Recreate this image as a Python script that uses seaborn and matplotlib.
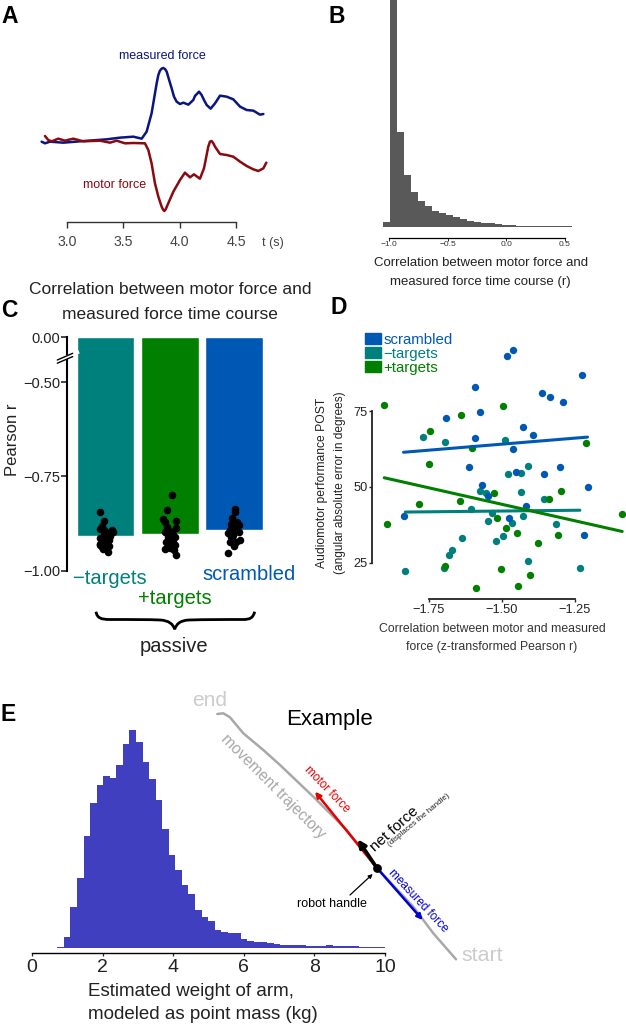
import numpy as np
import pandas as pd
import matplotlib
matplotlib.use("Agg")
import matplotlib.pyplot as plt
import seaborn as sns
from matplotlib.patches import Patch, PathPatch
from matplotlib.path import Path

# --------------------------------------------------
# Data
# --------------------------------------------------

# A: force time courses
measured_t = [2.775, 2.805, 2.849, 2.967, 3.115, 3.352, 3.470, 3.589, 3.663, 3.707, 3.751, 3.796,
              3.811, 3.825, 3.840, 3.855, 3.870, 3.885, 3.905, 3.929, 3.950, 3.973, 4.003, 4.033,
              4.077, 4.121, 4.136, 4.172, 4.195, 4.216, 4.240, 4.275, 4.314, 4.358, 4.417, 4.476,
              4.536, 4.595, 4.654, 4.713, 4.743]
measured_f = [0, -.05, 0, -.03, .01, .07, .12, .15, .09, .30, .85, 1.75,
              2.0, 2.13, 2.19, 2.21, 2.18, 2.10, 1.87, 1.60, 1.35, 1.20, 1.13, 1.17,
              1.11, 1.25, 1.37, 1.50, 1.40, 1.25, 1.10, .99, 1.15, 1.38, 1.35, 1.27,
              1.05, .95, .93, .81, .83]
motor_t = [2.805, 2.834, 2.864, 2.923, 2.982, 3.056, 3.145, 3.293, 3.382, 3.441, 3.515, 3.589,
           3.692, 3.722, 3.751, 3.781, 3.811, 3.840, 3.855, 3.864, 3.876, 3.899, 3.944, 4.003,
           4.047, 4.092, 4.127, 4.180, 4.216, 4.254, 4.269, 4.284, 4.299, 4.314, 4.358, 4.417,
           4.476, 4.536, 4.595, 4.654, 4.698, 4.743, 4.769]
motor_f = [.17, .05, .01, .09, .03, .09, .01, .03, -.03, .03, -.05, -.04,
           -.05, -.25, -.65, -1.25, -1.65, -1.95, -2.05, -2.08, -2.03, -1.85, -1.50, -1.15,
           -.93, -1.07, -.98, -1.11, -.80, -.15, 0, .02, -.05, -.15, -.37, -.40,
           -.45, -.60, -.73, -.83, -.88, -.80, -.63]
time_ticks = [3.0, 3.5, 4.0, 4.5]

# B: correlation histogram
corr_bin_range = (-1.051, 0.803)
corr_counts = [1.4, 75, 28.4, 15.4, 10.5, 7.8, 6.3, 4.8, 4.1, 3.5, 2.8, 2.2, 1.8, 1.4, 1.2, 1.0,
               .8, .6, .4, .3, .25, .2, .15, .12, .1, .08, .06, .04, .03, .02, .01]
corr_ticks = [-1.0, -0.5, 0.0, 0.5]
corr_tick_labels = ["\u22121.0", "\u22120.5", "0.0", "0.5"]

# C: bars and subject dots
conditions = ["\u2212targets", "+targets", "scrambled"]
condition_means = [-.907, -.9035, -.892]
pearson_ticks = [0.0, -0.5, -0.75, -1.0]
pearson_tick_labels = ["0.00", "\u22120.50", "\u22120.75", "\u22121.00"]
dots_x = [-.078, -.026, -.057, -.083, .099, .010, .114, .062, -.031, .073, .010, -.083,
          -.021, .047, -.083, .010, .062, -.057, .010, -.042, .042, -.083, .099, -.031,
          1.036, .953, .901, .927, 1.099, .953, 1.099, .979, 1.031, .927, 1.057, .969,
          1.005, .938, 1.057, .979, 1.083, .927, 1.005, 1.068, 1.099, 1.031, .979, 1.083,
          2.026, 2.026, 1.969, 2.057, 1.958, 1.995, 2.078, 1.943, 2.021, 1.917, 1.995, 2.078,
          1.969, 2.099, 1.943, 2.036, 2.010, 1.917, 1.995, 1.953]
dots_y = [-.845, -.867, -.882, -.890, -.892, -.897, -.897, -.901, -.905, -.908, -.912, -.914,
          -.919, -.919, -.928, -.928, -.935, -.936, -.941, -.943, -.951, -.932, -.894, -.892,
          -.799, -.840, -.862, -.870, -.867, -.883, -.888, -.892, -.897, -.897, -.905, -.910,
          -.914, -.923, -.923, -.932, -.932, -.943, -.941, -.945, -.958, -.936, -.901, -.910,
          -.837, -.844, -.861, -.870, -.875, -.883, -.879, -.892, -.892, -.901, -.905, -.898,
          -.914, -.919, -.923, -.923, -.935, -.952, -.901, -.910]

# D: scatter and fit lines
scrambled_x = [-1.837, -1.691, -1.591, -1.575, -1.592, -1.612, -1.568, -1.547, -1.476, -1.484, -1.461, -1.427,
               -1.394, -1.462, -1.452, -1.416, -1.355, -1.364, -1.336, -1.290, -1.226, -1.301, -1.204, -1.219]
scrambled_y = [40.4, 72.6, 82.9, 74.7, 66.2, 56.4, 50.7, 47.0, 39.8, 93.1, 95.2, 69.6,
               67.2, 62.5, 55.0, 43.8, 54.3, 81.0, 79.5, 77.9, 87.0, 56.4, 49.8, 34.2]
minus_x = [-1.772, -1.695, -1.489, -1.478, -1.436, -1.410, -1.436, -1.575, -1.553, -1.356, -1.606, -1.535,
           -1.427, -1.549, -1.465, -1.316, -1.495, -1.521, -1.637, -1.671, -1.682, -1.697, -1.831, -1.411, -1.231]
minus_y = [66.5, 64.9, 65.4, 54.1, 54.7, 56.9, 48.2, 48.6, 47.9, 46.0, 42.6, 41.3,
           40.4, 38.8, 38.0, 37.7, 33.9, 32.1, 33.1, 29.1, 27.6, 23.4, 22.3, 25.4, 23.4]
plus_x = [-1.903, -1.893, -1.784, -1.751, -1.747, -1.640, -1.603, -1.645, -1.527, -1.498, -1.516, -1.486,
          -1.450, -1.376, -1.338, -1.297, -1.309, -1.211, -1.088, -1.696, -1.503, -1.403, -1.446, -1.590]
plus_y = [77.1, 37.6, 44.2, 57.6, 68.5, 73.8, 62.8, 45.5, 48.1, 76.6, 39.9, 36.6,
          34.8, 31.5, 45.9, 48.5, 34.2, 64.5, 41.2, 24.0, 22.8, 20.9, 17.2, 16.5]
fit_scrambled_x, fit_scrambled_y = [-1.837, -1.207], [61.4, 66.4]
fit_minus_x, fit_minus_y = [-1.831, -1.233], [41.7, 42.3]
fit_plus_x, fit_plus_y = [-1.903, -1.088], [53.0, 35.3]
z_ticks = [-1.75, -1.5, -1.25]
z_tick_labels = ["\u22121.75", "\u22121.50", "\u22121.25"]
error_ticks = [25, 50, 75]

# E: arm weight histogram
weight_bin_range = (0.718, 10.0)
weight_counts = [.4, 3.2, 12.2, 20.9, 33.6, 43.5, 48.8, 51.7, 51.0, 55.0, 61.1, 65.5, 61.9, 55.7, 50.7, 44.5,
                 35.8, 27.8, 23.4, 19.0, 16.3, 11.5, 9.2, 8.2, 5.4, 4.7, 4.5, 4.4, 2.7, 2.2, 1.9, 1.8,
                 1.5, 1.1, .8, 1.0, .9, .8, .7, .7, .7, .9, .5, .5, .6, .5, .3, .3, .3, .3]
weight_ticks = [0, 2, 4, 6, 8, 10]

# colours
TEAL = "#00807d"
GREEN = "#007f00"
BLUE = "#0058b5"
NAVY = "#0a1580"
DARKRED = "#8a0a10"
HIST_GREY = "#595959"
HIST_BLUE = "#3f3fc0"
TEXT = "#222222"

# --------------------------------------------------
# Figure setup
# --------------------------------------------------

sns.set_theme(style="white")
plt.rcParams["font.family"] = ["Liberation Sans", "DejaVu Sans"]
plt.rcParams["axes.unicode_minus"] = True

W, H = 626, 1028
fig = plt.figure(figsize=(W / 100, H / 100), dpi=100, facecolor="white")


def px_axes(left, top, right, bottom):
    ax = fig.add_axes([left / W, 1 - bottom / H, (right - left) / W, (bottom - top) / H])
    ax.patch.set_alpha(0)
    return ax


def clean_axis(ax, lw=1.2, color="#222222"):
    sns.despine(ax=ax, top=True, right=True, left=True, bottom=True)
    ax.set_xlabel("")
    ax.set_ylabel("")
    for side in ["left", "bottom"]:
        ax.spines[side].set_linewidth(lw)
        ax.spines[side].set_color(color)


# overlay in figure pixels for annotations
over = fig.add_axes([0, 0, 1, 1], zorder=10)
over.set_xlim(0, W)
over.set_ylim(H, 0)
over.axis("off")
over.patch.set_alpha(0)


def label(x, y, s, size=9, color=TEXT, rotation=0, ha="center", weight="normal"):
    over.text(x, y, s, fontsize=size, color=color, rotation=rotation, ha=ha, va="center_baseline",
              fontweight=weight, rotation_mode="anchor")


def arrow(x0, y0, x1, y1, color, lw, scale=9):
    over.annotate("", xy=(x1, y1), xytext=(x0, y0),
                  arrowprops=dict(arrowstyle="-|>", color=color, lw=lw, mutation_scale=scale,
                                  shrinkA=0, shrinkB=0))


for letter, lx, ly in [("A", 1, 14), ("B", 328, 14), ("C", 1, 308), ("D", 330, 305), ("E", 1, 712)]:
    label(lx, ly, letter, size=16.5, color="black", ha="left", weight="bold")

# --------------------------------------------------
# Panel A
# --------------------------------------------------

ax_a = px_axes(30, 50, 300, 222)
sns.lineplot(x=measured_t, y=measured_f, sort=False, estimator=None, color=NAVY, linewidth=1.8, ax=ax_a)
sns.lineplot(x=motor_t, y=motor_f, sort=False, estimator=None, color=DARKRED, linewidth=1.8, ax=ax_a)
ax_a.set_xlim(2.672, 5.068)
ax_a.set_ylim(-2.41, 2.75)
clean_axis(ax_a, lw=1.0, color="#333333")
ax_a.spines["bottom"].set_visible(True)
ax_a.spines["bottom"].set_bounds(3.0, 4.5)
ax_a.set_xticks(time_ticks)
ax_a.set_xticklabels([f"{t:.1f}" for t in time_ticks])
ax_a.set_yticks([])
ax_a.tick_params(axis="x", bottom=True, length=4, width=1.0, color="#333333", labelsize=10.2,
                 labelcolor="#444444", pad=5)
label(162.3, 54.3, "measured force", color=NAVY)
label(115, 184, "motor force", color=DARKRED)
label(272.7, 241.7, "t (s)", color="#444444")

# --------------------------------------------------
# Panel B
# --------------------------------------------------

corr_edges = np.linspace(corr_bin_range[0], corr_bin_range[1], len(corr_counts) + 1)
corr_centers = (corr_edges[:-1] + corr_edges[1:]) / 2

ax_b = px_axes(370, 0, 610, 237.7)
sns.histplot(x=corr_centers, weights=corr_counts, bins=corr_edges.tolist(), element="step", color=HIST_GREY,
             alpha=1, linewidth=0, ax=ax_b)
ax_b.set_xlim(-1.165, 0.885)
ax_b.set_ylim(-3.3, 68)
clean_axis(ax_b, lw=0.9, color="black")
ax_b.spines["bottom"].set_visible(True)
ax_b.spines["bottom"].set_bounds(-1.0, 0.5)
ax_b.set_xticks(corr_ticks)
ax_b.set_xticklabels(corr_tick_labels)
ax_b.set_yticks([])
ax_b.tick_params(axis="x", bottom=True, length=2, width=0.7, labelsize=6, labelcolor="#333333", pad=0.5)
label(480.7, 261, "Correlation between motor force and", size=9.5)
label(480.7, 280, "measured force time course (r)", size=9.5)

# --------------------------------------------------
# Panel C
# --------------------------------------------------

BREAK_K = 0.237


def squash(v):
    v = np.asarray(v, dtype=float)
    return np.where(v <= -0.5, v, -0.5 + (v + 0.5) * BREAK_K)


def unsquash(v):
    v = np.asarray(v, dtype=float)
    return np.where(v <= -0.5, v, -0.5 + (v + 0.5) / BREAK_K)


bars = pd.DataFrame({"condition": conditions, "r": condition_means})

ax_c = px_axes(67, 337.3, 272.3, 570.7)
sns.barplot(data=bars, x="condition", y="r", hue="condition", order=conditions, hue_order=conditions,
            palette=[TEAL, GREEN, BLUE], saturation=1, width=0.9, errorbar=None, legend=False, ax=ax_c)
sns.scatterplot(x=dots_x, y=dots_y, color="black", s=30, linewidth=0, zorder=5, clip_on=False, ax=ax_c)
ax_c.set_yscale("function", functions=(squash, unsquash))
ax_c.set_xlim(-0.6, 2.6)
ax_c.set_ylim(-1, 0)
clean_axis(ax_c, lw=1.5, color="black")
ax_c.spines["left"].set_visible(True)
ax_c.set_yticks(pearson_ticks)
ax_c.set_yticklabels(pearson_tick_labels)
ax_c.minorticks_off()
ax_c.set_xticks([])
ax_c.tick_params(axis="y", left=True, length=4, width=1.2, labelsize=10.5, labelcolor=TEXT, pad=1)

label(170, 288, "Correlation between motor force and", size=12.5)
label(170, 313, "measured force time course", size=12.5)
label(11, 440, "Pearson r", size=12, rotation=90)
label(110, 576, conditions[0], size=14.5, color=TEAL)
label(175, 597, conditions[1], size=14.5, color=GREEN)
label(249, 572, conditions[2], size=14.5, color=BLUE)
label(174, 645, "passive", size=14.5, color=TEXT)

# axis break
over.plot([56, 79], [362, 351.7], color="white", lw=2.6, solid_capstyle="butt")
over.plot([57.3, 72.7], [360, 353.3], color="black", lw=1.0)
over.plot([57.3, 72.7], [363.2, 356.6], color="black", lw=1.0)

# brace under the bars
brace = Path(
    [(96, 611.7), (97, 618), (101, 619.5), (110, 619.5),
     (130, 619.5), (150, 619.5), (160, 620), (169, 620.5), (173, 624), (174.7, 629.3),
     (176.4, 624), (180, 620.5), (189, 620), (205, 619.5), (225, 619.5), (243, 619.5),
     (250, 619.5), (253, 618), (254.7, 611.7)],
    [Path.MOVETO] + [Path.CURVE4] * 18,
)
over.add_patch(PathPatch(brace, fill=False, edgecolor="black", lw=2.0))

# --------------------------------------------------
# Panel D
# --------------------------------------------------

ax_d = px_axes(372.3, 330, 626, 599.3)
for xs, ys, fx, fy, col in [(minus_x, minus_y, fit_minus_x, fit_minus_y, TEAL),
                            (plus_x, plus_y, fit_plus_x, fit_plus_y, GREEN),
                            (scrambled_x, scrambled_y, fit_scrambled_x, fit_scrambled_y, BLUE)]:
    sns.scatterplot(x=xs, y=ys, color=col, s=28, linewidth=0, clip_on=False, ax=ax_d)
    sns.lineplot(x=fx, y=fy, color=col, linewidth=2.2, estimator=None, ax=ax_d)
ax_d.set_xlim(-1.944, -1.075)
ax_d.set_ylim(12.94, 101.7)
clean_axis(ax_d, lw=1.3, color="#222222")
ax_d.spines["left"].set_visible(True)
ax_d.spines["bottom"].set_visible(True)
ax_d.spines["left"].set_bounds(25, 75)
ax_d.spines["bottom"].set_bounds(-1.75, -1.25)
ax_d.set_xticks(z_ticks)
ax_d.set_xticklabels(z_tick_labels)
ax_d.set_yticks(error_ticks)
ax_d.tick_params(axis="both", left=True, bottom=True, length=2.5, width=1.0, labelsize=9.2,
                 labelcolor=TEXT, pad=1)
ax_d.legend(handles=[Patch(color=BLUE, label="scrambled"), Patch(color=TEAL, label="\u2212targets"),
                     Patch(color=GREEN, label="+targets")],
            labelcolor=[BLUE, TEAL, GREEN], loc="upper left", bbox_to_anchor=(365 / W, 1 - 332.5 / H),
            bbox_transform=fig.transFigure, frameon=False, fontsize=10.8, borderpad=0, borderaxespad=0,
            handlelength=1.05, handleheight=0.75, handletextpad=0.2, labelspacing=0.02)
label(320.7, 482.7, "Audiomotor performance POST", size=8.7, rotation=90)
label(338, 482.7, "(angular absolute error in degrees)", size=8.6, rotation=90)
label(492, 627.7, "Correlation between motor and measured", size=8.85, color="#333333")
label(492, 645.7, "force (z-transformed Pearson r)", size=8.85, color="#333333")

# --------------------------------------------------
# Panel E
# --------------------------------------------------

weight_edges = np.linspace(weight_bin_range[0], weight_bin_range[1], len(weight_counts) + 1)
weight_centers = (weight_edges[:-1] + weight_edges[1:]) / 2

ax_e = px_axes(32, 700, 385, 953.3)
sns.histplot(x=weight_centers, weights=weight_counts, bins=weight_edges.tolist(), element="step", color=HIST_BLUE,
             alpha=1, linewidth=0, ax=ax_e)
ax_e.set_xlim(0, 10)
ax_e.set_ylim(-1.6, 74.4)
clean_axis(ax_e, lw=1.0, color="black")
ax_e.spines["bottom"].set_visible(True)
ax_e.set_xticks(weight_ticks)
ax_e.set_yticks([])
ax_e.tick_params(axis="x", bottom=True, length=2.5, width=0.9, labelsize=14, labelcolor=TEXT, pad=1.5)
label(88.3, 989.3, "Estimated weight of arm,", size=13.5, ha="left")
label(88.3, 1012.7, "modeled as point mass (kg)", size=13.5, ha="left")

# example diagram
traj_x = [217.3, 223.3, 230, 243.3, 263.3, 280, 313.3, 346.7, 376.7, 413.3, 433.3, 456]
traj_y = [714, 713.3, 717.3, 733.3, 750, 765, 796.7, 830, 867.7, 906.7, 933.3, 959.3]
over.plot(traj_x, traj_y, color="#a8a8a8", lw=1.8)
arrow(376.7, 867.7, 315, 791.7, "#e30000", 1.8, scale=8)
arrow(376.7, 867.7, 422.7, 920, "#0000d0", 1.8, scale=8)
arrow(376.7, 867.7, 357.7, 839.3, "black", 2.6, scale=11)
over.scatter([376.7], [867.7], s=40, color="black", zorder=6, linewidths=0)
arrow(350, 895, 372.7, 874, "black", 0.9, scale=6)

label(331.7, 902.3, "robot handle", size=9, color="black")
label(327.7, 788.3, "motor force", size=8.5, color="#e30000", rotation=-46)
label(419.3, 900, "measured force", size=8.5, color="#0000d0", rotation=-47)
label(274, 785, "movement trajectory", size=11.2, color="#a8a8a8", rotation=-45)
label(393.3, 828.3, "net force", size=11, color="black", rotation=42)
label(418.3, 819.3, "(displaces the handle)", size=5.8, color="#222222", rotation=40)
label(210, 698, "end", size=15, color="#cccccc")
label(482.7, 953.3, "start", size=15.4, color="#cccccc")
label(330, 716.7, "Example", size=16, color="black")

fig.savefig("out.png", dpi=100)
print("saved")
